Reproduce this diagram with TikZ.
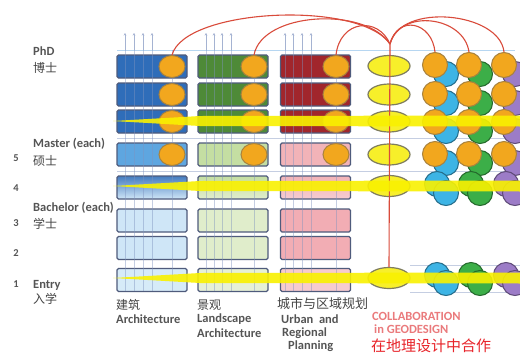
\documentclass[tikz,border=0pt]{standalone}
\usepackage{fontspec}
\setmainfont{Carlito}
\newfontfamily\cjk{Noto Sans CJK SC}
\usetikzlibrary{arrows.meta,shapes.geometric}

\definecolor{boxline}{HTML}{4F5B7C}
\definecolor{archD}{HTML}{2F6DB9}
\definecolor{archM}{HTML}{5EA6E0}
\definecolor{archL}{HTML}{CFE6F7}
\definecolor{archE}{HTML}{D6EBF8}
\definecolor{landD}{HTML}{4E8A38}
\definecolor{landM}{HTML}{C4DEA2}
\definecolor{landL}{HTML}{E0EDCB}
\definecolor{landE}{HTML}{E6F0D6}
\definecolor{urbD}{HTML}{A1262C}
\definecolor{urbM}{HTML}{F2B3B8}
\definecolor{urbL}{HTML}{F2ADB4}
\definecolor{urbE}{HTML}{F6CBCF}
\definecolor{orng}{HTML}{F2A71E}
\definecolor{orngline}{HTML}{A8823E}
\definecolor{ylw}{HTML}{F7EF2A}
\definecolor{ylwline}{HTML}{7F7D5E}
\definecolor{band}{HTML}{F9F100}
\definecolor{cyanC}{HTML}{3DB4E5}
\definecolor{greenC}{HTML}{3CAE48}
\definecolor{purpC}{HTML}{9C7CC7}
\definecolor{arcred}{HTML}{D94B3B}
\definecolor{gridc}{HTML}{7F93BF}
\definecolor{labelc}{HTML}{555555}
\definecolor{collab}{HTML}{EA7A7C}
\definecolor{zhred}{HTML}{E8242A}

\tikzset{
  box/.style={draw=boxline, line width=1.1pt, rounded corners=1.5pt,
    minimum width=70pt, minimum height=23pt, inner sep=0pt},
  archPhD/.style={fill=archD}, landPhD/.style={fill=landD}, urbPhD/.style={fill=urbD},
  archMs/.style={fill=archM}, landMs/.style={fill=landM}, urbMs/.style={fill=urbM},
  archFour/.style={top color=archD!90, bottom color=archL},
  landFour/.style={top color=landM, bottom color=landL},
  urbFour/.style={top color=urbM, bottom color=urbE},
  archBa/.style={fill=archL}, landBa/.style={fill=landL}, urbBa/.style={fill=urbL},
  archEn/.style={fill=archE}, landEn/.style={fill=landE}, urbEn/.style={fill=urbE},
  oval/.style={ellipse, draw=orngline, fill=orng, line width=1pt,
    minimum width=26pt, minimum height=22pt, inner sep=0pt},
  collabOval/.style={ellipse, draw=ylwline, fill=ylw, line width=1.2pt,
    minimum width=42pt, minimum height=21pt, inner sep=0pt},
  dot/.style={circle, line width=1pt, minimum size=25pt, inner sep=0pt},
  odot/.style={dot, draw=orngline, fill=orng},
  cdot/.style={dot, draw=cyanC!60!black, fill=cyanC},
  gdot/.style={dot, draw=greenC!60!black, fill=greenC},
  pdot/.style={dot, draw=purpC!60!black, fill=purpC},
  arcline/.style={draw=arcred, line width=1.1pt},
  gridline/.style={draw=gridc, opacity=.45, line width=.5pt},
  tick/.style={draw=gridc!70, line width=.5pt, -{Stealth[length=2.5pt,width=2.5pt]}},
  en/.style={font=\bfseries\fontsize{12.5}{13}\selectfont, text=labelc, inner sep=0pt, anchor=west},
  zh/.style={font=\cjk\fontsize{12}{13}\selectfont, text=labelc!80!black, inner sep=0pt, anchor=west},
  num/.style={font=\bfseries\fontsize{10.5}{11}\selectfont, text=labelc, inner sep=0pt},
}

\begin{document}
\begin{tikzpicture}[x=1pt,y=-1pt]
\useasboundingbox (0,0) rectangle (520,354);
\fill[white] (0,0) rectangle (520,354);

% faint horizontal guide lines
\draw[gridline, draw=archM] (117,50) -- (515,50);
\draw[gridline] (117,138) -- (520,138);
\draw[gridline] (117,171) -- (520,171);
\draw[gridline] (410,265) -- (520,265);
\draw[gridline] (410,292) -- (520,292);

% programme boxes: architecture, landscape, urban planning
\foreach \r/\y/\fa/\fl/\fu in {
   p1/66.5/archPhD/landPhD/urbPhD,
   p2/94.5/archPhD/landPhD/urbPhD,
   p3/121.5/archPhD/landPhD/urbPhD,
   m/154.5/archMs/landMs/urbMs,
   f/187.5/archFour/landFour/urbFour,
   b3/220.5/archBa/landBa/urbBa,
   b2/248/archBa/landBa/urbBa,
   e/280/archEn/landEn/urbEn} {
  \node[box,\fa] (a\r) at (152,\y) {};
  \node[box,\fl] (l\r) at (233,\y) {};
  \node[box,\fu] (u\r) at (315.5,\y) {};
}

% vertical course lines with small arrows on top
\foreach \x in {125,134,143,152, 206,214,222,231, 285,293,302,311} {
  \coordinate (tb\x) at (\x,50);
  \coordinate (tt\x) at (\x,33);
  \draw[tick] (tb\x) -- (tt\x);
  \draw[gridline] (\x,50) -- (\x,291);
}
\foreach \x in {172,254,336} {
  \draw[gridline] (\x,50) -- (\x,291);
}

% research components of the doctoral and master levels
\foreach \r/\y in {p1/66.5, p2/94.5, p3/121.5, m/154.5} {
  \node[oval] (oa\r) at (172,\y) {};
  \node[oval] (ol\r) at (254,\y) {};
  \node[oval] (ou\r) at (336,\y) {};
}

% collaboration column
\coordinate (hub) at (390,44);
\foreach \r/\y in {1/66, 2/94.5, 3/121.5, 4/154.5, 5/186} {
  \node[collabOval] (c\r) at (389,\y) {};
}
\node[collabOval] (ce) at (389,278) {};
\draw[arcline] (hub) -- (ce.north);

% partner clusters on the right
\foreach \r/\y in {1/65, 2/94, 3/122, 4/154} {
  \node[cdot] (k\r a) at (446,\y+9) {};
  \node[gdot] (k\r b) at (480,\y+9) {};
  \node[pdot] (k\r c) at (515,\y+9) {};
  \node[odot] (q\r a) at (435,\y) {};
  \node[odot] (q\r b) at (469,\y) {};
  \node[odot] (q\r c) at (504,\y) {};
}
\foreach \r/\y/\d in {f/184/9, e/275/8} {
  \node[cdot] (s\r a) at (437,\y) {};
  \node[cdot] (t\r a) at (446,\y+\d) {};
  \node[gdot] (s\r b) at (471,\y) {};
  \node[gdot] (t\r b) at (480,\y+\d) {};
  \node[pdot] (s\r c) at (506,\y) {};
  \node[pdot] (t\r c) at (515,\y+\d) {};
}

% links into the collaboration hub
\draw[arcline] (oap1.north) .. controls (185,8) and (360,0) .. (hub);
\draw[arcline] (olp1.north) .. controls (262,12) and (365,6) .. (hub);
\draw[arcline] (oup1.north) .. controls (340,20) and (378,16) .. (hub);
\draw[arcline] (q1a.north) .. controls (432,22) and (398,14) .. (hub);
\draw[arcline] (q1b.north) .. controls (464,16) and (400,8) .. (hub);
\draw[arcline] (q1c.north) .. controls (500,12) and (400,2) .. (hub);

% shared yellow threads
\foreach \y in {121, 186, 278} {
  \fill[band, opacity=.9] (113,\y) -- (200,{\y-5}) -- (522,{\y-5.5})
    -- (522,{\y+5.5}) -- (200,{\y+5}) -- cycle;
}

% level labels
\node[en] (tphd) at (33,51) {PhD};
\node[zh] (zphd) at (33,68) {博士};
\node[en] (tmas) at (33,144) {Master (each)};
\node[num] (n5) at (16,158) {5};
\node[zh] (zmas) at (33,161) {硕士};
\node[num] (n4) at (16,188) {4};
\node[en] (tbac) at (33,208) {Bachelor (each)};
\node[num] (n3) at (16,223) {3};
\node[zh] (zbac) at (33,224) {学士};
\node[num] (n2) at (16,253) {2};
\node[num] (n1) at (16,284) {1};
\node[en] (tent) at (33,285) {Entry};
\node[zh] (zent) at (33,299) {入学};

% discipline labels
\node[zh] (zarch) at (116,305) {建筑};
\node[en] (tarch) at (116,319) {Architecture};
\node[zh] (zland) at (197,305) {景观};
\node[en] (tland) at (197,319) {Landscape};
\node[en] (tland2) at (197,333) {Architecture};
\node[zh, font=\cjk\fontsize{13}{14}\selectfont] (zurb) at (277,304) {城市与区域规划};
\node[en] (turb) at (281,319) {Urban\ \ and};
\node[en] (turb2) at (282,333) {Regional};
\node[en] (turb3) at (288,346) {Planning};
\node[en, text=collab] (tcol) at (372,316) {COLLABORATION};
\node[en, text=collab] (tcol2) at (374,329) {in GEODESIGN};
\node[zh, font=\cjk\fontsize{15}{16}\selectfont, text=zhred] (zcol) at (371,346) {在地理设计中合作};
\end{tikzpicture}
\end{document}
